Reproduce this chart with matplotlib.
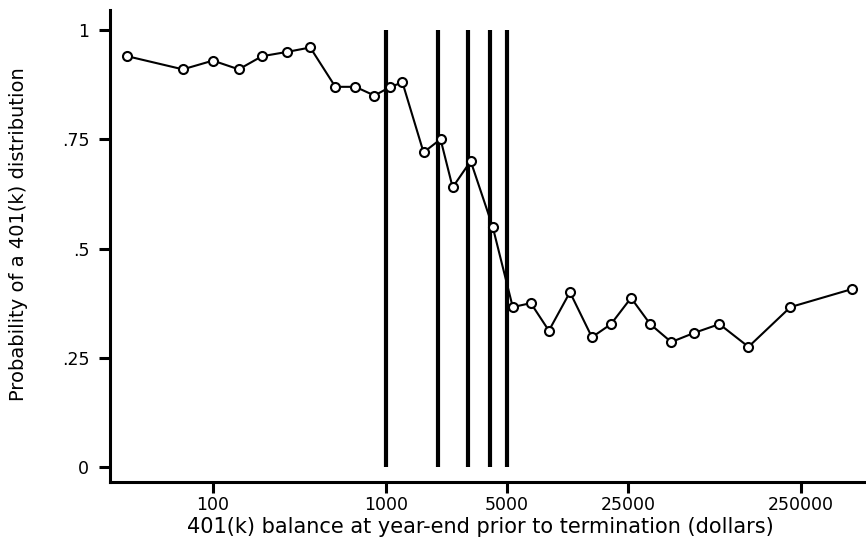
import matplotlib
matplotlib.use("Agg")
import matplotlib.pyplot as plt
import numpy as np

# 401(k) balance (dollars) and probability of a distribution
balance = [32, 67, 100, 141, 192, 269, 365, 510, 666, 858, 1062, 1246,
           1650, 2069, 2430, 3090, 4140, 5410, 6880, 8750, 11580, 15520,
           20000, 26120, 33700, 44600, 60600, 84700, 124700, 218000, 493000]
prob = [0.94, 0.91, 0.93, 0.91, 0.94, 0.95, 0.96, 0.87, 0.87, 0.85, 0.87, 0.88,
        0.72, 0.75, 0.64, 0.70, 0.55, 0.366, 0.375, 0.312, 0.40, 0.297,
        0.327, 0.387, 0.327, 0.286, 0.307, 0.327, 0.275, 0.366, 0.407]

cutoffs = [1000, 2000, 3000, 4000, 5000]

xticks = [100, 1000, 5000, 25000, 250000]
xtick_labels = ["100", "1000", "5000", "25000", "250000"]
yticks = [0, 0.25, 0.5, 0.75, 1]
ytick_labels = ["0", ".25", ".5", ".75", "1"]

plt.rcParams['font.family'] = ['DejaVu Sans']

fig = plt.figure(figsize=(8.66, 5.37), dpi=100)
ax = fig.add_axes([110 / 866, 55 / 537, 756 / 866, 472 / 537])

ax.vlines(cutoffs, 0, 1, color='black', linewidth=3)
ax.plot(balance, prob, color='black', linewidth=1.5, marker='o', markersize=6.5,
        markerfacecolor='white', markeredgecolor='black', markeredgewidth=1.5)

ax.set_xscale('log')
ax.set_xlim(25.4, 596000)
ax.set_ylim(-0.0343, 1.0458)

ax.set_xticks(xticks)
ax.set_xticklabels(xtick_labels)
ax.minorticks_off()
ax.set_yticks(yticks)
ax.set_yticklabels(ytick_labels)

for side in ['top', 'right']:
    ax.spines[side].set_visible(False)
for side in ['left', 'bottom']:
    ax.spines[side].set_linewidth(2.2)

ax.tick_params(axis='both', direction='out', length=8, width=2.2,
               labelsize=12.5, colors='black')
ax.tick_params(axis='x', pad=2)
ax.tick_params(axis='y', pad=7)

ax.set_xlabel("401(k) balance at year-end prior to termination (dollars)",
              fontsize=15)
ax.xaxis.set_label_coords(0.49, -0.074)
ax.set_ylabel("Probability of a 401(k) distribution", fontsize=14)
ax.yaxis.set_label_coords(-0.108, 0.525)

fig.savefig("out.png", dpi=100)
